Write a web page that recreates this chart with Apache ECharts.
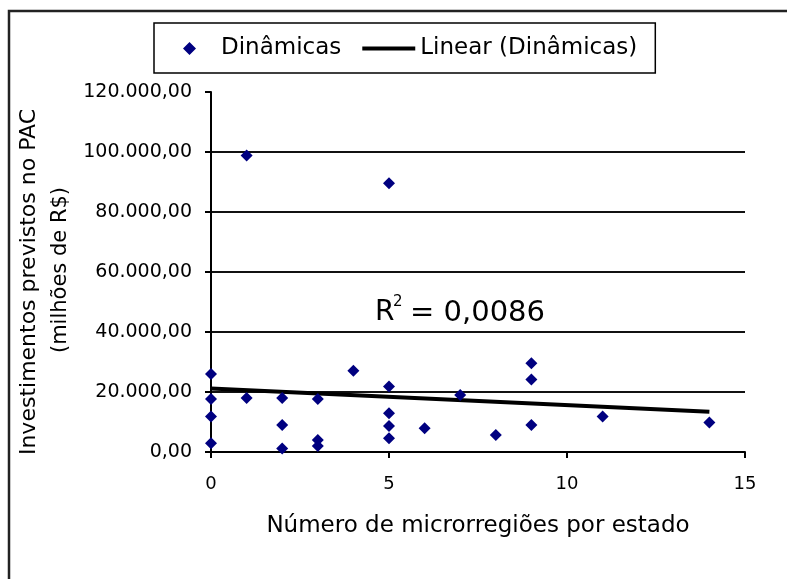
<!DOCTYPE html>
<html>
<head>
<meta charset="utf-8">
<script src="https://cdn.jsdelivr.net/npm/echarts@6/dist/echarts.min.js"></script>
<style>
html,body{margin:0;padding:0;background:#fff;}
#grafico{width:787px;height:579px;}
</style>
</head>
<body>
<div id="grafico"></div>
<script>
var myChart = echarts.init(document.getElementById('grafico'));

// dados
var microrregioes = [0,0,0,0,1,1,2,2,2,3,3,3,4,5,5,5,5,5,6,7,8,9,9,9,11,14];
var investimentos = [26000,17700,11800,2900,98800,18000,18000,9000,1200,17700,4000,2000,27100,89600,21800,12900,8700,4600,7900,19000,5700,29600,24200,9000,11800,9800];
// linha de tendência (Linear)
var tendenciaX = [0, 14];
var tendenciaY = [21200, 13400];
var eixoX = {min: 0, max: 15, passo: 5};
var eixoY = {min: 0, max: 120000, passo: 20000};
var r2 = '0,0086';

var fonte = 'DejaVu Sans';

function formataValor(v){
	var inteiro = Math.round(v).toString().replace(/\B(?=(\d{3})+(?!\d))/g, '.');
	return inteiro + ',00';
}

var pontos = [];
for(var i = 0; i < microrregioes.length; i++){
	pontos.push([microrregioes[i], investimentos[i]]);
}
var tendencia = [];
for(var i = 0; i < tendenciaX.length; i++){
	tendencia.push([tendenciaX[i], tendenciaY[i]]);
}

// ícones da legenda (losango pequeno e traço, dentro de uma caixa 53x14)
var iconeLosango = 'path://M0,7L0,7.01Z M20,7L26.5,0.5L33,7L26.5,13.5Z M53,7L53,7.01Z';
var iconeLinha = 'path://M0,0L0,0.01Z M0,5L53,5L53,9L0,9Z M53,14L53,14.01Z';

var option = {
	backgroundColor: '#fff',
	animation: false,
	legend: {
		left: 154,
		top: 23,
		padding: [14, 18, 13, 9],
		borderColor: '#000',
		borderWidth: 1.5,
		itemWidth: 53,
		itemHeight: 14,
		itemGap: 21,
		textStyle: {fontFamily: fonte, fontSize: 23, color: '#000'},
		data: [
			{name: 'Dinâmicas', icon: iconeLosango},
			{name: 'Linear (Dinâmicas)', icon: iconeLinha}
		]
	},
	grid: {left: 211, right: 42, top: 92, bottom: 127},
	xAxis: {
		type: 'value',
		min: eixoX.min,
		max: eixoX.max,
		interval: eixoX.passo,
		name: 'Número de microrregiões por estado',
		nameLocation: 'middle',
		nameGap: 63,
		nameTextStyle: {fontFamily: fonte, fontSize: 23, color: '#000'},
		axisLine: {lineStyle: {color: '#000', width: 2}},
		axisTick: {show: true, length: 6, lineStyle: {color: '#000', width: 2}},
		axisLabel: {fontFamily: fonte, fontSize: 18, color: '#000', margin: 23},
		splitLine: {show: false}
	},
	yAxis: {
		type: 'value',
		min: eixoY.min,
		max: eixoY.max,
		interval: eixoY.passo,
		axisLine: {show: true, lineStyle: {color: '#000', width: 2}},
		axisTick: {show: true, length: 6, lineStyle: {color: '#000', width: 2}},
		axisLabel: {fontFamily: fonte, fontSize: 19, color: '#000', margin: 19, formatter: formataValor},
		splitLine: {show: true, showMaxLine: false, lineStyle: {color: '#111', width: 2}}
	},
	series: [
		{
			name: 'Dinâmicas',
			type: 'scatter',
			symbol: 'diamond',
			symbolSize: 12,
			itemStyle: {color: '#000080', opacity: 1},
			data: pontos,
			z: 3
		},
		{
			name: 'Linear (Dinâmicas)',
			type: 'line',
			symbol: 'none',
			lineStyle: {color: '#000', width: 4},
			itemStyle: {color: '#000'},
			data: tendencia,
			z: 2
		}
	],
	graphic: [
		{
			type: 'rect',
			shape: {x: 9, y: 11, width: 800, height: 600},
			style: {fill: null, stroke: '#222', lineWidth: 2.5},
			silent: true
		},
		{
			type: 'text',
			x: 29, y: 282,
			rotation: Math.PI / 2,
			style: {text: 'Investimentos previstos no PAC', fontFamily: fonte, fontSize: 22, fill: '#000', align: 'center', verticalAlign: 'middle'}
		},
		{
			type: 'text',
			x: 61, y: 270,
			rotation: Math.PI / 2,
			style: {text: '(milhões de R$)', fontFamily: fonte, fontSize: 21, fill: '#000', align: 'center', verticalAlign: 'middle'}
		},
		{
			type: 'text',
			x: 375, y: 313,
			style: {text: 'R', fontFamily: fonte, fontSize: 28, fill: '#000', align: 'left', verticalAlign: 'middle'}
		},
		{
			type: 'text',
			x: 393, y: 302,
			style: {text: '2', fontFamily: fonte, fontSize: 15, fill: '#000', align: 'left', verticalAlign: 'middle'}
		},
		{
			type: 'text',
			x: 410, y: 313,
			style: {text: '= ' + r2, fontFamily: fonte, fontSize: 29, fill: '#000', align: 'left', verticalAlign: 'middle'}
		}
	]
};
myChart.setOption(option);
</script>
</body>
</html>
